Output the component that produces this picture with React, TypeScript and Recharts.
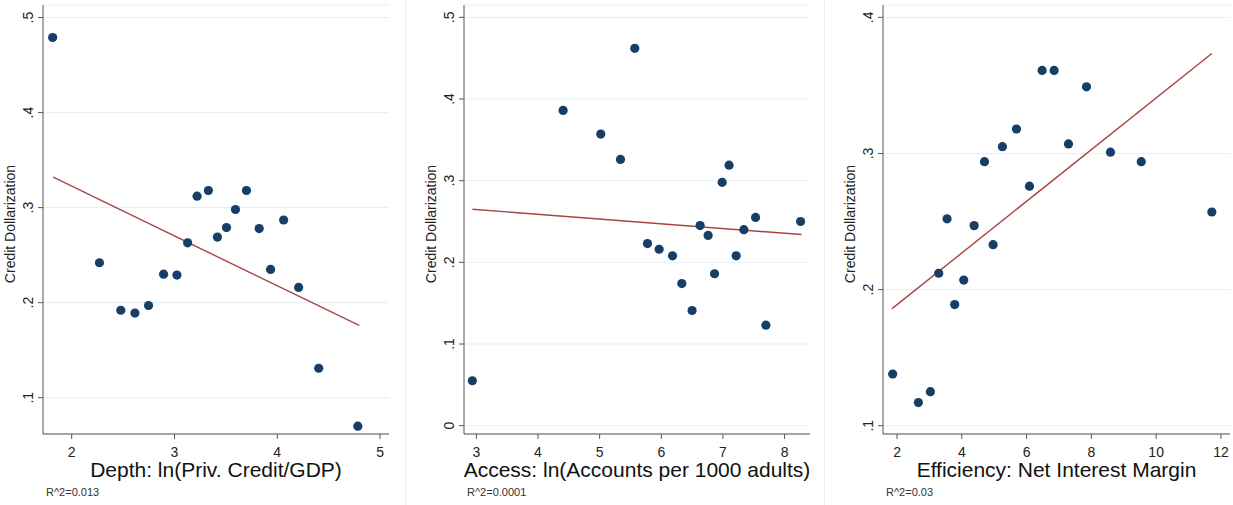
import { ScatterChart, Scatter, XAxis, YAxis, CartesianGrid, ReferenceLine } from "recharts"

const font = "'Liberation Sans', Arial, sans-serif"
const navy = "#163f67"
const maroon = "#a84444"

// Depth: ln(Priv. Credit/GDP)
const depthX = [1.815, 2.27, 2.478, 2.615, 2.748, 2.894, 3.024, 3.128, 3.22, 3.33, 3.418, 3.506, 3.593, 3.7, 3.824, 3.935, 4.062, 4.208, 4.403, 4.784]
const depthY = [0.479, 0.242, 0.192, 0.189, 0.197, 0.23, 0.229, 0.263, 0.312, 0.318, 0.269, 0.279, 0.298, 0.318, 0.278, 0.235, 0.287, 0.216, 0.131, 0.07]
const depthFitX = [1.821, 4.797]
const depthFitY = [0.332, 0.176]

// Access: ln(Accounts per 1000 adults)
const accessX = [2.935, 4.407, 5.018, 5.338, 5.57, 5.776, 5.965, 6.182, 6.333, 6.5, 6.63, 6.76, 6.864, 6.988, 7.1, 7.215, 7.34, 7.53, 7.697, 8.26]
const accessY = [0.055, 0.386, 0.357, 0.326, 0.462, 0.223, 0.216, 0.208, 0.174, 0.141, 0.245, 0.233, 0.186, 0.298, 0.319, 0.208, 0.24, 0.255, 0.123, 0.25]
const accessFitX = [2.935, 8.276]
const accessFitY = [0.265, 0.234]

// Efficiency: Net Interest Margin
const effX = [1.866, 2.659, 3.03, 3.287, 3.545, 3.78, 4.06, 4.38, 4.7, 4.966, 5.254, 5.687, 6.089, 6.48, 6.85, 7.294, 7.85, 8.59, 9.54, 11.72]
const effY = [0.138, 0.117, 0.125, 0.212, 0.252, 0.189, 0.207, 0.247, 0.294, 0.233, 0.305, 0.318, 0.276, 0.361, 0.361, 0.307, 0.349, 0.301, 0.294, 0.257]
const effFitX = [1.846, 11.72]
const effFitY = [0.186, 0.3735]

const depthXTicks = [2, 3, 4, 5]
const depthYTicks = [0.1, 0.2, 0.3, 0.4, 0.5]
const accessXTicks = [3, 4, 5, 6, 7, 8]
const accessYTicks = [0, 0.1, 0.2, 0.3, 0.4, 0.5]
const effXTicks = [2, 4, 6, 8, 10, 12]
const effYTicks = [0.1, 0.2, 0.3, 0.4]

function YTick(props: any) {
  const { x, y, payload } = props
  const v = payload.value
  const s = v === 0 ? "0" : String(v).replace(/^0/, "")
  return (
    <text x={x} y={y} transform={`rotate(-90 ${x} ${y})`} textAnchor="middle" fontSize={14} fill="#222" fontFamily={font}>
      {s}
    </text>
  )
}

interface PanelProps {
  xs: number[]
  ys: number[]
  fitX: number[]
  fitY: number[]
  xDomain: [number, number]
  yDomain: [number, number]
  xTicks: number[]
  yTicks: number[]
  title: string
  r2: string
  left: number
  width: number
  axisW: number
  rightM: number
}

function Panel(p: PanelProps) {
  const data = p.xs.map((x, i) => ({ x, y: p.ys[i] }))
  const plotRight = p.width - p.rightM
  const cx = (p.axisW + plotRight) / 2
  const lx = p.axisW - 28
  return (
    <div style={{ position: "absolute", left: p.left, top: 0 }}>
      <ScatterChart width={p.width} height={505} margin={{ top: 5, right: p.rightM, bottom: 0, left: 0 }}>
        <CartesianGrid vertical={false} stroke="#e5eef1" />
        <XAxis
          type="number"
          dataKey="x"
          domain={p.xDomain}
          ticks={p.xTicks}
          interval={0}
          allowDataOverflow
          height={71}
          tickSize={5}
          tickMargin={8}
          stroke="#555"
          tick={{ fill: "#222", fontSize: 14, fontFamily: font }}
          label={{
            content: () => (
              <g>
                <text x={cx} y={477} textAnchor="middle" fontSize={21} fill="#111" fontFamily={font}>
                  {p.title}
                </text>
                <text x={p.axisW + 3} y={496} fontSize={11} fill="#333" fontFamily={font}>
                  {p.r2}
                </text>
              </g>
            ),
          }}
        />
        <YAxis
          type="number"
          dataKey="y"
          width={p.axisW}
          domain={p.yDomain}
          ticks={p.yTicks}
          interval={0}
          allowDataOverflow
          tickSize={5}
          tickMargin={5}
          stroke="#555"
          tick={<YTick />}
          label={{
            content: () => (
              <text
                x={lx}
                y={224}
                transform={`rotate(-90 ${lx} 224)`}
                textAnchor="middle"
                fontSize={14}
                fill="#222"
                fontFamily={font}
              >
                Credit Dollarization
              </text>
            ),
          }}
        />
        <Scatter
          data={data}
          isAnimationActive={false}
          shape={(s: any) => <circle cx={s.cx} cy={s.cy} r={4.6} fill={navy} />}
        />
        <ReferenceLine
          segment={[
            { x: p.fitX[0], y: p.fitY[0] },
            { x: p.fitX[1], y: p.fitY[1] },
          ]}
          stroke={maroon}
          strokeWidth={1.4}
          ifOverflow="visible"
        />
      </ScatterChart>
    </div>
  )
}

export default function App() {
  return (
    <div style={{ position: "absolute", left: 0, top: 0, width: 1233, height: 505, background: "#fff", overflow: "hidden" }}>
      <div style={{ position: "absolute", left: 405, top: 0, width: 1, height: 505, background: "#eef1f1" }} />
      <div style={{ position: "absolute", left: 824, top: 0, width: 1, height: 505, background: "#eef1f1" }} />
      <Panel
        xs={depthX}
        ys={depthY}
        fitX={depthFitX}
        fitY={depthFitY}
        xDomain={[1.721, 5.087]}
        yDomain={[0.0618, 0.5132]}
        xTicks={depthXTicks}
        yTicks={depthYTicks}
        title="Depth: ln(Priv. Credit/GDP)"
        r2="R^2=0.013"
        left={0}
        width={400}
        axisW={43}
        rightM={11}
      />
      <Panel
        xs={accessX}
        ys={accessY}
        fitX={accessFitX}
        fitY={accessFitY}
        xDomain={[2.799, 8.413]}
        yDomain={[-0.0102, 0.5151]}
        xTicks={accessXTicks}
        yTicks={accessYTicks}
        title="Access: ln(Accounts per 1000 adults)"
        r2="R^2=0.0001"
        left={410}
        width={410}
        axisW={54}
        rightM={10}
      />
      <Panel
        xs={effX}
        ys={effY}
        fitX={effFitX}
        fitY={effFitY}
        xDomain={[1.567, 12.28]}
        yDomain={[0.0939, 0.4091]}
        xTicks={effXTicks}
        yTicks={effYTicks}
        title="Efficiency: Net Interest Margin"
        r2="R^2=0.03"
        left={820}
        width={413}
        axisW={63}
        rightM={3}
      />
    </div>
  )
}
